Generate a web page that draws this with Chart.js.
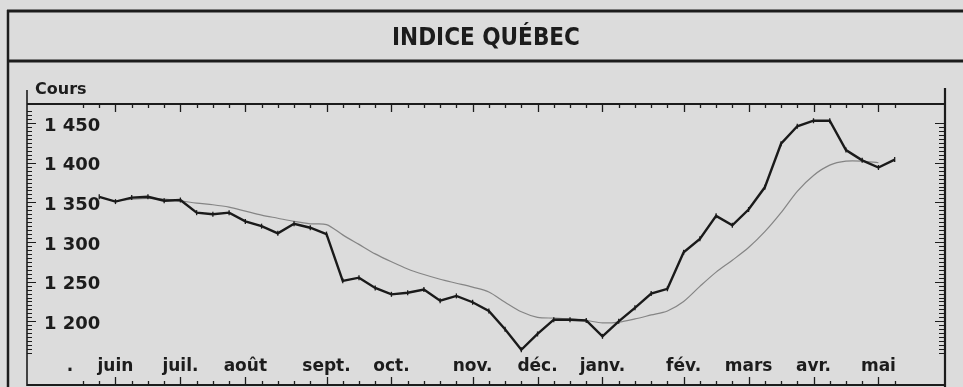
<!DOCTYPE html>
<html lang="fr">
<head>
<meta charset="utf-8">
<title>Indice Québec</title>
<script src="https://cdn.jsdelivr.net/npm/chart.js@4.4.1/dist/chart.umd.min.js"></script>
<style>
  html, body { margin: 0; padding: 0; background: #dcdcdc; }
  #zone { width: 963px; height: 387px; }
</style>
</head>
<body>
<div id="zone"><canvas id="graphique" width="963" height="387"></canvas></div>
<script>
// Semaines de cotation (0 = première semaine de l'échelle)
const semaines = [1, 2, 3, 4, 5, 6, 7, 8, 9, 10, 11, 12, 13, 14, 15, 16, 17, 18, 19, 20, 21, 22, 23, 24, 25,
                  26, 27, 28, 29, 30, 31, 32, 33, 34, 35, 36, 37, 38, 39, 40, 41, 42, 43, 44, 45, 46, 47, 48, 49, 50];

// Cours hebdomadaire de l'indice
const cours = [1357, 1351, 1356, 1357, 1352, 1353, 1337, 1335, 1337, 1326, 1320, 1311, 1323, 1318, 1310,
               1251, 1255, 1242, 1234, 1236, 1240, 1226, 1232, 1224, 1213, 1190, 1164, 1184, 1202, 1202,
               1201, 1181, 1200, 1217, 1235, 1241, 1287, 1304, 1333, 1321, 1341, 1369, 1424, 1446, 1453,
               1453, 1416, 1403, 1394, 1404];

// Moyenne mobile
const moyenne = [null, 1352, 1354, 1355, 1354, 1352, 1349, 1347, 1344, 1339, 1334, 1330, 1326, 1323, 1322,
                 1309, 1297, 1285, 1275, 1266, 1259, 1253, 1248, 1243, 1237, 1224, 1212, 1205, 1204, 1203,
                 1201, 1198, 1199, 1203, 1208, 1213, 1225, 1244, 1262, 1277, 1293, 1313, 1337, 1364, 1384,
                 1397, 1402, 1402, 1400, null];

// Étiquettes des mois et semaine où chacun commence
const mois = ['.', 'juin', 'juil.', 'août', 'sept.', 'oct.', 'nov.', 'déc.', 'janv.', 'fév.', 'mars', 'avr.', 'mai'];
const debutsMois = [-0.8, 2, 6, 10, 15, 19, 24, 28, 32, 37, 41, 45, 49];

// Graduations chiffrées de l'axe des cours
const echelleCours = [1200, 1250, 1300, 1350, 1400, 1450];

// Niveau (en points) où passe le trait inférieur du cadre, sous les noms de mois
const basCadre = 1117.5;

const ENCRE = '#1c1c1c';
const FOND = '#dcdcdc';

function trait(ctx, x1, y1, x2, y2, largeur) {
  ctx.lineWidth = largeur;
  ctx.beginPath();
  ctx.moveTo(x1, y1);
  ctx.lineTo(x2, y2);
  ctx.stroke();
}

// Cadre, graduations intérieures et légende « Cours »
const cadre = {
  id: 'cadre',
  beforeDraw(chart) {
    const { ctx, chartArea: a, scales: { x, y } } = chart;
    const W = chart.width, H = chart.height;
    const bas = Math.min(Math.round(y.getPixelForValue(basCadre)), H - 2);
    ctx.save();
    ctx.fillStyle = FOND;
    ctx.fillRect(0, 0, W, H);
    ctx.strokeStyle = ENCRE;

    // bandeau du titre
    trait(ctx, 7, 11, W, 11, 3);
    trait(ctx, 7, 61, W, 61, 3);
    trait(ctx, 8, 10, 8, H, 2.5);

    // cadre du graphique
    trait(ctx, a.left, 90, a.left, bas + 1, 1.6);
    trait(ctx, a.right, 88, a.right, H, 2.2);
    trait(ctx, a.left, a.top, a.right, a.top, 2);
    trait(ctx, a.left, bas, a.right, bas, 2);

    // graduations des semaines, haut et bas
    for (let s = 0; s <= 50; s++) {
      const px = Math.round(x.getPixelForValue(s)) + 0.5;
      const long = debutsMois.includes(s) ? 8 : 4;
      trait(ctx, px, a.top, px, a.top + long, 1.3);
      trait(ctx, px, bas, px, bas - long, 1.3);
    }

    // graduations des cours, gauche et droite
    for (let v = 1160; v <= 1465; v += 5) {
      const py = Math.round(y.getPixelForValue(v)) + 0.5;
      const majeure = v % 50 === 0;
      trait(ctx, a.left, py, a.left + (majeure ? 9 : 5), py, 1);
      if (v <= 1450) trait(ctx, a.right, py, a.right - (majeure ? 10 : 6), py, 1);
    }

    ctx.font = 'bold 16px "DejaVu Sans"';
    ctx.fillStyle = ENCRE;
    ctx.textBaseline = 'alphabetic';
    ctx.textAlign = 'left';
    ctx.fillText('Cours', a.left + 8, 94);
    ctx.restore();
  }
};

const points = serie => semaines.map((s, i) => ({ x: s, y: serie[i] }));

new Chart(document.getElementById('graphique'), {
  type: 'line',
  data: {
    datasets: [
      {
        label: 'Cours',
        data: points(cours),
        borderColor: '#1a1a1a',
        borderWidth: 2.4,
        pointStyle: 'line',
        pointRotation: 90,
        pointRadius: 2.5,
        pointBorderWidth: 1.3,
        pointBorderColor: '#1a1a1a',
        tension: 0,
        clip: false
      },
      {
        label: 'Moyenne mobile',
        data: points(moyenne),
        borderColor: '#858585',
        borderWidth: 1.2,
        pointRadius: 0,
        tension: 0.3,
        clip: false
      }
    ]
  },
  options: {
    responsive: false,
    devicePixelRatio: 1,
    animation: false,
    layout: { padding: { left: -7, right: 18, top: 0, bottom: 8.5 } },
    plugins: {
      legend: { display: false },
      tooltip: { enabled: false },
      title: {
        display: true,
        text: 'INDICE QUÉBEC',
        fullSize: false,
        color: ENCRE,
        font: { family: "'Liberation Sans Narrow', 'DejaVu Sans Condensed', 'Liberation Sans', sans-serif", size: 24, weight: 'bold' },
        padding: { top: 24.5, bottom: 50.7 }
      }
    },
    scales: {
      x: {
        type: 'linear',
        min: -3.45,
        max: 53.1,
        position: 'bottom',
        grid: { display: false, drawTicks: false },
        border: { display: false },
        afterBuildTicks: s => { s.ticks = debutsMois.map(v => ({ value: v })); },
        ticks: {
          autoSkip: false,
          maxRotation: 0,
          padding: 2,
          color: ENCRE,
          font: { family: '"DejaVu Sans"', size: 17, weight: 'bold' },
          callback: (v, i) => mois[i]
        }
      },
      y: {
        type: 'linear',
        min: 1158.6,
        max: 1474.1,
        position: 'left',
        grid: { display: false, drawTicks: false },
        border: { display: false },
        afterBuildTicks: s => { s.ticks = echelleCours.map(v => ({ value: v })); },
        ticks: {
          mirror: true,
          padding: 17,
          labelOffset: 3,
          color: ENCRE,
          font: { family: '"DejaVu Sans"', size: 18, weight: 'bold' },
          callback: v => String(v).replace(/\B(?=(\d{3})+(?!\d))/g, ' ')
        }
      }
    }
  },
  plugins: [cadre]
});
</script>
</body>
</html>
